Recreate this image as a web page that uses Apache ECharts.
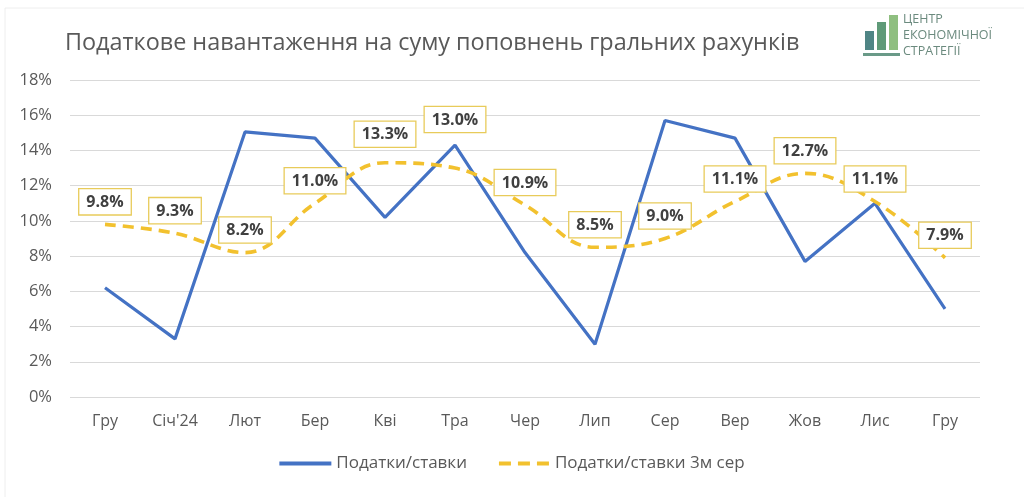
<!DOCTYPE html>
<html><head><meta charset="utf-8">
<script src="https://cdn.jsdelivr.net/npm/echarts@6/dist/echarts.min.js"></script>
<style>html,body{margin:0;padding:0;background:#fff}#c{width:1024px;height:497px}</style>
</head><body><div id="c"></div>
<script>
const categories = ['Гру','Січ\'24','Лют','Бер','Кві','Тра','Чер','Лип','Сер','Вер','Жов','Лис','Гру'];
const taxRate = [6.2, 3.3, 15.05, 14.7, 10.2, 14.3, 8.2, 3.0, 15.7, 14.7, 7.7, 11.0, 5.0];
const taxRate3m = [9.8, 9.3, 8.2, 11.0, 13.3, 13.0, 10.9, 8.5, 9.0, 11.1, 12.7, 11.1, 7.9];
const yTicks = [0, 2, 4, 6, 8, 10, 12, 14, 16, 18];
const seriesNames = ['Податки/ставки', 'Податки/ставки 3м сер'];
const titleText = 'Податкове навантаження на суму поповнень гральних рахунків';
const logoLines = ['ЦЕНТР', 'ЕКОНОМІЧНОЇ', 'СТРАТЕГІЇ'];

const font = 'Open Sans';
const chart = echarts.init(document.getElementById('c'));
const labelData = taxRate3m.map((v, i) => i === 5 ? {value: v, label: {distance: 36}} : (i === 4 ? {value: v, label: {distance: 16}} : v));
chart.setOption({
  animation: false,
  textStyle: {fontFamily: font},
  title: {text: titleText, left: 60, top: 27, textStyle: {fontFamily: font, fontSize: 23.4, fontWeight: 'normal', color: '#595959'}},
  legend: {
    bottom: 20, left: 'center', itemWidth: 52, itemHeight: 4, itemGap: 32,
    textStyle: {fontSize: 17, color: '#595959', fontFamily: font},
    data: [
      {name: seriesNames[0], icon: 'rect', itemStyle: {color: '#4472C4'}},
      {name: seriesNames[1], icon: 'path://M0,0h12v4h-12z M19,0h12v4h-12z M38,0h12v4h-12z', itemStyle: {color: '#F2C12E'}}
    ]
  },
  grid: {left: 70, right: 44, top: 80, bottom: 100},
  xAxis: {
    type: 'category', data: categories, boundaryGap: true,
    axisLine: {show: false}, axisTick: {show: false},
    axisLabel: {fontSize: 16, color: '#595959', margin: 16}
  },
  yAxis: {
    type: 'value', min: 0, max: 18, interval: 2,
    axisLabel: {fontSize: 16.5, color: '#595959', margin: 18, formatter: v => yTicks.includes(v) ? v + '%' : ''},
    splitLine: {lineStyle: {color: '#d9d9d9', width: 1}},
    axisLine: {show: false}, axisTick: {show: false}
  },
  series: [
    {
      name: seriesNames[0], type: 'line', data: taxRate, symbol: 'none',
      lineStyle: {color: '#4472C4', width: 3.2}, itemStyle: {color: '#4472C4'}, z: 2
    },
    {
      name: seriesNames[1], type: 'line', data: labelData, symbol: 'circle', symbolSize: 0.1, showSymbol: true, smooth: 0.4,
      lineStyle: {color: '#F2C12E', width: 3.6, type: [11, 7]}, itemStyle: {color: '#F2C12E'}, z: 3,
      labelLayout: {hideOverlap: false},
      label: {
        show: true, position: 'top', distance: 10,
        formatter: p => Number(p.value).toFixed(1) + '%',
        fontSize: 16, fontWeight: 'bold', color: '#404040', fontFamily: font,
        backgroundColor: '#fff', borderColor: '#E8CB5A', borderWidth: 1.3,
        padding: [5, 7, 4, 7]
      }
    }
  ],
  graphic: [
    {type: 'rect', shape: {x: 5, y: 8, width: 1030, height: 600}, style: {fill: 'none', stroke: '#eeeeee', lineWidth: 1}, silent: true},
    {type: 'rect', shape: {x: 865, y: 31, width: 9, height: 19}, style: {fill: '#4f8585'}},
    {type: 'rect', shape: {x: 877, y: 22, width: 9, height: 28}, style: {fill: '#5f9a78'}},
    {type: 'rect', shape: {x: 889, y: 15, width: 9, height: 35}, style: {fill: '#8fbf80'}},
    {type: 'rect', shape: {x: 863, y: 53, width: 37, height: 3}, style: {fill: '#6a9a88'}},
    {type: 'text', left: 903, top: 11, style: {text: logoLines.join('\n'), lineHeight: 16, fontSize: 12.5, fill: '#6b8a7e', fontFamily: font}}
  ]
});
</script></body></html>
